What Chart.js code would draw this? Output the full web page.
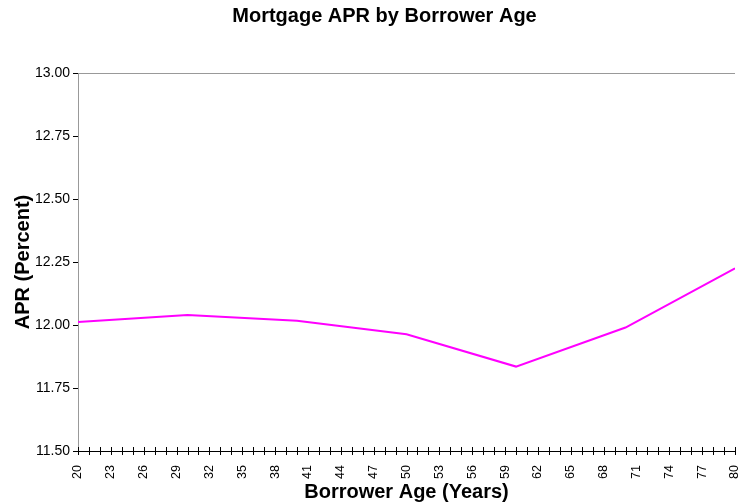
<!DOCTYPE html>
<html>
<head>
<meta charset="utf-8">
<script src="https://cdn.jsdelivr.net/npm/chart.js@4/dist/chart.umd.min.js"></script>
<style>
  html, body { margin: 0; padding: 0; background: #fff; }
  #wrap { width: 738px; height: 504px; }
</style>
</head>
<body>
<div id="wrap"><canvas id="aprChart"></canvas></div>
<script>
// borrower age (years) and APR (percent)
const ages = [20, 30, 40, 50, 60, 70, 80];
const apr = [12.012, 12.04, 12.017, 11.963, 11.835, 11.99, 12.225];

const yTicks = [11.5, 11.75, 12.0, 12.25, 12.5, 12.75, 13.0];

const points = ages.map((a, i) => ({ x: a, y: apr[i] }));

// x tick marks that cross the axis line, like the original
const crossTicks = {
    id: 'crossTicks',
    afterDraw(chart) {
        const ctx = chart.ctx;
        const xs = chart.scales.x;
        const y0 = chart.chartArea.bottom;
        ctx.save();
        ctx.strokeStyle = '#000';
        ctx.lineWidth = 1;
        for (let v = 20; v <= 80; v++) {
            const px = Math.round(xs.getPixelForValue(v)) + 0.5;
            ctx.beginPath();
            ctx.moveTo(px, y0 - 4);
            ctx.lineTo(px, y0 + 4);
            ctx.stroke();
        }
        ctx.beginPath();
        ctx.moveTo(chart.chartArea.left, y0 + 0.5);
        ctx.lineTo(chart.chartArea.right, y0 + 0.5);
        ctx.stroke();
        ctx.restore();
    }
};

const context = document.getElementById('aprChart').getContext('2d');

new Chart(context, {
    type: 'line',
    data: {
        datasets: [{
            label: 'APR',
            data: points,
            borderColor: '#ff00ff',
            borderWidth: 2,
            pointRadius: 0,
            tension: 0
        }]
    },
    options: {
        responsive: true,
        maintainAspectRatio: false,
        animation: false,
        // left padding pushes the title centre over the plot, like the original
        layout: { padding: { left: 34, right: 3, top: 0, bottom: 0 } },
        plugins: {
            legend: { display: false },
            tooltip: { enabled: false },
            title: {
                display: true,
                text: 'Mortgage APR by Borrower Age',
                color: '#000',
                font: { family: 'Liberation Sans, Arial', size: 20, weight: 'bold' },
                padding: { top: 4, bottom: 45 }
            }
        },
        scales: {
            x: {
                type: 'linear',
                min: 20,
                max: 80,
                border: { display: false },
                grid: { display: false, drawOnChartArea: false },
                afterFit: axis => {
                    axis.height = 53;
                    axis.paddingLeft = 0;
                    axis.paddingRight = 0;
                },
                ticks: {
                    stepSize: 1,
                    autoSkip: false,
                    minRotation: 90,
                    maxRotation: 90,
                    padding: 6,
                    color: '#000',
                    font: { family: 'Liberation Sans, Arial', size: 12.5 },
                    callback: v => ((v - 20) % 3 === 0 ? String(v) : '')
                },
                title: {
                    display: true,
                    text: 'Borrower Age (Years)',
                    color: '#000',
                    font: { family: 'Liberation Sans, Arial', size: 20, weight: 'bold' },
                    padding: { top: 0, bottom: 0 }
                }
            },
            y: {
                min: 11.5,
                max: 13.0,
                afterBuildTicks: axis => { axis.ticks = yTicks.map(v => ({ value: v })); },
                afterFit: axis => { axis.width = 44; },
                border: { display: true, color: '#999', width: 1 },
                grid: {
                    drawOnChartArea: true,
                    color: c => (c.tick && c.tick.value === 13 ? '#999' : 'rgba(0,0,0,0)'),
                    tickColor: '#000',
                    tickLength: 5
                },
                ticks: {
                    padding: 3,
                    color: '#000',
                    font: { family: 'Liberation Sans, Arial', size: 14 },
                    callback: v => Number(v).toFixed(2)
                },
                title: {
                    display: true,
                    text: 'APR (Percent)',
                    color: '#000',
                    font: { family: 'Liberation Sans, Arial', size: 20, weight: 'bold' },
                    padding: { top: -23, bottom: 0 }
                }
            }
        }
    },
    plugins: [crossTicks]
});
</script>
</body>
</html>
